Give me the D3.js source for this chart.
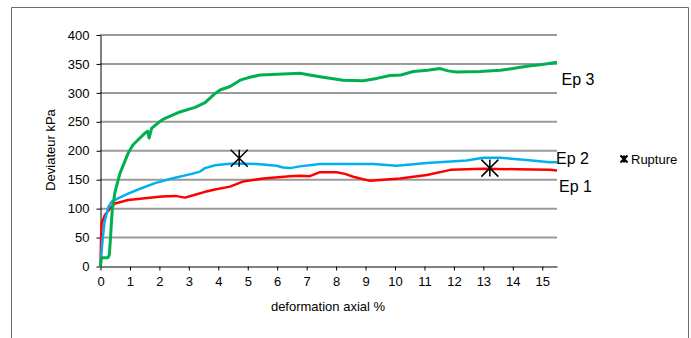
<!DOCTYPE html>
<html><head><meta charset="utf-8">
<script src="https://cdn.jsdelivr.net/npm/d3@7"></script>
<style>body{margin:0;background:#fff}svg{display:block;font-family:"Liberation Sans",Arial,sans-serif}</style>
</head><body><svg id="c" width="691" height="338"></svg>
<script>
const ep3X=[0,0.03,0.1,0.25,0.3,0.34,0.37,0.4,0.49,0.66,0.94,1.1,1.28,1.5,1.6,1.65,1.68,1.74,2.0,2.19,2.64,3.21,3.55,3.7,3.89,4.06,4.4,4.74,5.0,5.42,6.0,6.77,7.1,7.45,8.24,8.92,9.38,9.83,10.2,10.62,11.1,11.53,11.8,12.09,12.89,13.57,14.0,14.47,15.0,15.5];
const ep3Y=[0,15,15,15,20,50,75,98,128,161,196,210,219,230,234,222,228,239,250,256,266,275,283,290,299,305,311,322,326,331,332,334,331,328,322,321,325,330,331,337,339,342,338,336,337,339,342,346,349,353];
const ep2X=[0,0.03,0.06,0.13,0.18,0.27,0.38,0.61,0.94,1.28,1.85,2.42,3.10,3.38,3.55,3.89,4.3,4.62,5.30,5.98,6.2,6.43,6.77,7.45,8.47,9.26,10.06,11.08,12.43,13.0,13.57,14.47,15.26,15.5];
const ep2Y=[3,20,40,75,86,103,112,118,126,133,144,152,160,164,170,175,177,178,177,174,171,170,173,177,177,177,174,179,183,188,188,184,180,180];
const ep1X=[0,0.02,0.04,0.15,0.32,0.49,0.94,1.51,2.08,2.53,2.87,3.21,3.55,3.89,4.40,4.85,5.53,6.43,6.77,7.11,7.45,8.02,8.3,8.58,9.15,10.17,11.08,11.89,13.0,14.13,15.26,15.5];
const ep1Y=[0,50,75,89,100,109,115,118,121,122,119,124,129,133,138,147,152,156,157,156,163,163,160,155,148,152,158,167,169,168,167,166];
const ruptureX=[4.71,13.22];
const ruptureY=[187,170];
const seriesNames=["Ep 1","Ep 2","Ep 3"];
const xTicks=[0,1,2,3,4,5,6,7,8,9,10,11,12,13,14,15];
const yTicks=[0,50,100,150,200,250,300,350,400];
const xTitle="deformation axial %";
const yTitle="Deviateur kPa";
const legendLabel="Rupture";

const svg=d3.select("#c");
svg.append("path").attr("d","M11.5,345V7.5H688.5V345").attr("fill","none").attr("stroke","#6b6b6b").attr("stroke-width",1);

const x=d3.scaleLinear().domain([0,15.5]).range([100.5,557]);
const y=d3.scaleLinear().domain([0,400]).range([266.5,35]);

svg.append("g").selectAll("line").data(yTicks.filter(d=>d>0)).join("line")
 .attr("x1",100).attr("x2",557).attr("y1",d=>y(d)).attr("y2",d=>y(d))
 .attr("stroke","#9a9a9a").attr("stroke-width",2);

const ya=svg.append("g").attr("transform","translate(100.5,0)")
 .call(d3.axisLeft(y).tickValues(yTicks).tickSize(4).tickPadding(7).tickSizeOuter(0));
ya.select(".domain").attr("stroke","#000");
ya.selectAll(".tick line").attr("stroke","#000");
ya.selectAll("text").attr("font-size",13).attr("fill","#000").attr("font-family","Liberation Sans, Arial, sans-serif");

const xa=svg.append("g").attr("transform","translate(0,266.5)")
 .call(d3.axisBottom(x).tickValues(xTicks).tickSize(4).tickPadding(6).tickSizeOuter(0));
xa.select(".domain").attr("stroke","#000");
xa.selectAll(".tick line").attr("stroke","#000");
xa.selectAll("text").attr("font-size",13).attr("fill","#000").attr("font-family","Liberation Sans, Arial, sans-serif");

const line=d3.line().x(d=>x(d[0])).y(d=>y(d[1]));
const mk=(xs,ys)=>xs.map((v,i)=>[v,ys[i]]);
svg.append("path").datum(mk(ep1X,ep1Y)).attr("d",line).attr("fill","none").attr("stroke","#ff0000").attr("stroke-width",2.5).attr("stroke-linejoin","round");
svg.append("path").datum(mk(ep2X,ep2Y)).attr("d",line).attr("fill","none").attr("stroke","#00b0f0").attr("stroke-width",2.5).attr("stroke-linejoin","round");
svg.append("path").datum(mk(ep3X,ep3Y)).attr("d",line).attr("fill","none").attr("stroke","#00b050").attr("stroke-width",3).attr("stroke-linejoin","round");

const star=(g,s,w)=>{
 g.append("path").attr("d",`M${-s},${-s}L${s},${s}M${-s},${s}L${s},${-s}M0,${-s}L0,${s}`).attr("stroke","#000").attr("stroke-width",w).attr("fill","none");
};
svg.append("g").selectAll("g").data(mk(ruptureX,ruptureY)).join("g")
 .attr("transform",d=>`translate(${x(d[0])},${y(d[1])})`).each(function(){star(d3.select(this),8.5,1.5);});

const lab=[[561.5,79,seriesNames[2]],[556,158,seriesNames[1]],[559,186,seriesNames[0]]];
svg.append("g").selectAll("text").data(lab).join("text")
 .attr("x",d=>d[0]).attr("y",d=>d[1]).attr("dy","0.35em").attr("font-size",16).text(d=>d[2]);

const lg=svg.append("g").attr("transform","translate(624,159)");
star(lg,3.5,2.2);
lg.append("text").attr("x",7).attr("dy","0.35em").attr("font-size",13).text(legendLabel);

svg.append("text").attr("x",328).attr("y",306).attr("dy","0.35em").attr("text-anchor","middle").attr("font-size",13).text(xTitle);
svg.append("text").attr("transform","translate(50,150) rotate(-90)").attr("dy","0.35em").attr("text-anchor","middle").attr("font-size",13).text(yTitle);
</script></body></html>
